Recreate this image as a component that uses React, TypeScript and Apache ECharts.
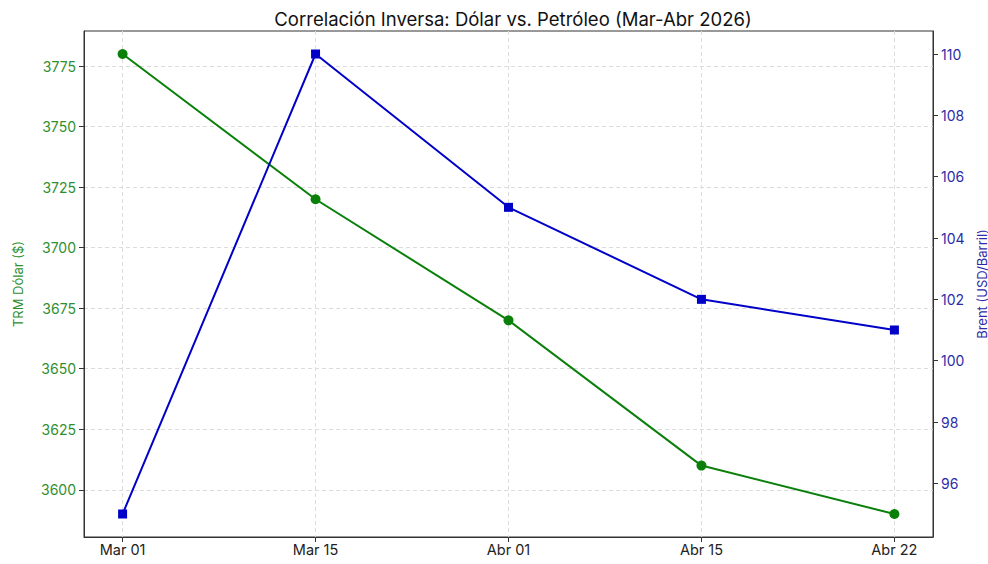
import React, { useEffect, useRef } from "react";
import * as echarts from "echarts";

const categories = ["Mar 01", "Mar 15", "Abr 01", "Abr 15", "Abr 22"];
const trmValues = [3780, 3720, 3670, 3610, 3590];
const brentValues = [95, 110, 105, 102, 101];
const trmTicks = [3600, 3625, 3650, 3675, 3700, 3725, 3750, 3775];
const brentTicks = [96, 98, 100, 102, 104, 106, 108, 110];
const xTicks = [0, 1, 2, 3, 4];

const GREEN = "#0a800a";
const GREEN_TEXT = "#2f8f2f";
const BLUE = "#0000c8";
const BLUE_TEXT = "#2c2ca8";
const FONT = "Inter, 'Open Sans', sans-serif";

export default function App() {
  const ref = useRef<HTMLDivElement>(null);
  useEffect(() => {
    if (!ref.current) return;
    const chart = echarts.init(ref.current, null, { renderer: "svg" });
    const pad = (arr: number[]) => {
      const mn = Math.min(...arr), mx = Math.max(...arr);
      const m = (mx - mn) * 0.05;
      return [mn - m, mx + m];
    };
    const [tMin, tMax] = pad(trmValues);
    const [bMin, bMax] = pad(brentValues);
    const xr = pad(xTicks);
    chart.setOption({
      animation: false,
      backgroundColor: "#ffffff",
      textStyle: { fontFamily: FONT },
      title: {
        text: "Correlación Inversa: Dólar vs. Petróleo (Mar-Abr 2026)",
        left: 508,
        top: 4,
        textAlign: "center",
        textStyle: { fontFamily: FONT, fontSize: 18.5, fontWeight: "normal", color: "#111" },
      },
      grid: {
        left: 84,
        right: 55,
        top: 31,
        bottom: 27,
        containLabel: false,
        outerBoundsMode: "none",
        show: true,
        borderColor: "#333",
        borderWidth: 1,
        backgroundColor: "transparent",
      },
      xAxis: {
        type: "value",
        min: xr[0],
        max: xr[1],
        name: "Fecha",
        nameLocation: "middle",
        nameGap: 34,
        nameTextStyle: { fontFamily: FONT, fontSize: 13, color: "#333" },
        axisLine: { show: true, onZero: false, lineStyle: { color: "#333", width: 1 } },
        axisTick: { show: true, length: 5, customValues: xTicks, lineStyle: { color: "#333" } },
        axisLabel: {
          customValues: xTicks,
          formatter: (v: number) => categories[Math.round(v)] ?? "",
          fontFamily: FONT,
          fontSize: 14.5,
          color: "#222",
          margin: 5,
        },
        splitLine: { show: true, lineStyle: { color: "#dcdcdc", type: [4, 3], width: 1 } },
      },
      yAxis: [
        {
          type: "value",
          position: "left",
          min: tMin,
          max: tMax,
          name: "TRM Dólar ($)",
          nameLocation: "middle",
          nameGap: 60,
          nameRotate: 90,
          nameTextStyle: { fontFamily: FONT, fontSize: 13, color: GREEN_TEXT },
          axisLine: { show: true, onZero: false, lineStyle: { color: "#333", width: 1 } },
          axisTick: { show: true, length: 5, customValues: trmTicks, lineStyle: { color: "#333" } },
          axisLabel: {
            customValues: trmTicks,
            formatter: (v: number) => String(Math.round(v)),
            fontFamily: FONT,
            fontSize: 14,
            color: GREEN_TEXT,
            margin: 8,
          },
          splitLine: { show: true, lineStyle: { color: "#dcdcdc", type: [4, 3], width: 1 } },
        },
        {
          type: "value",
          position: "right",
          min: bMin,
          max: bMax,
          name: "Brent (USD/Barril)",
          nameLocation: "middle",
          nameGap: 33,
          nameRotate: 90,
          nameTextStyle: { fontFamily: FONT, fontSize: 13, color: BLUE_TEXT },
          axisLine: { show: true, onZero: false, lineStyle: { color: "#333", width: 1 } },
          axisTick: { show: true, length: 5, customValues: brentTicks, lineStyle: { color: "#333" } },
          axisLabel: {
            customValues: brentTicks,
            formatter: (v: number) => String(Math.round(v)),
            fontFamily: FONT,
            fontSize: 14,
            color: BLUE_TEXT,
            margin: 8,
          },
          splitLine: { show: false },
        },
      ],
      series: [
        {
          type: "line",
          name: "TRM",
          yAxisIndex: 0,
          data: trmValues.map((v, i) => [i, v]),
          symbol: "circle",
          symbolSize: 10,
          lineStyle: { color: GREEN, width: 2 },
          itemStyle: { color: GREEN },
        },
        {
          type: "line",
          name: "Brent",
          yAxisIndex: 1,
          data: brentValues.map((v, i) => [i, v]),
          symbol: "rect",
          symbolSize: 9,
          lineStyle: { color: BLUE, width: 2 },
          itemStyle: { color: BLUE },
        },
      ],
    });
    return () => chart.dispose();
  }, []);
  return <div ref={ref} style={{ width: 988, height: 564, position: "absolute", left: 0, top: 0 }} />;
}
